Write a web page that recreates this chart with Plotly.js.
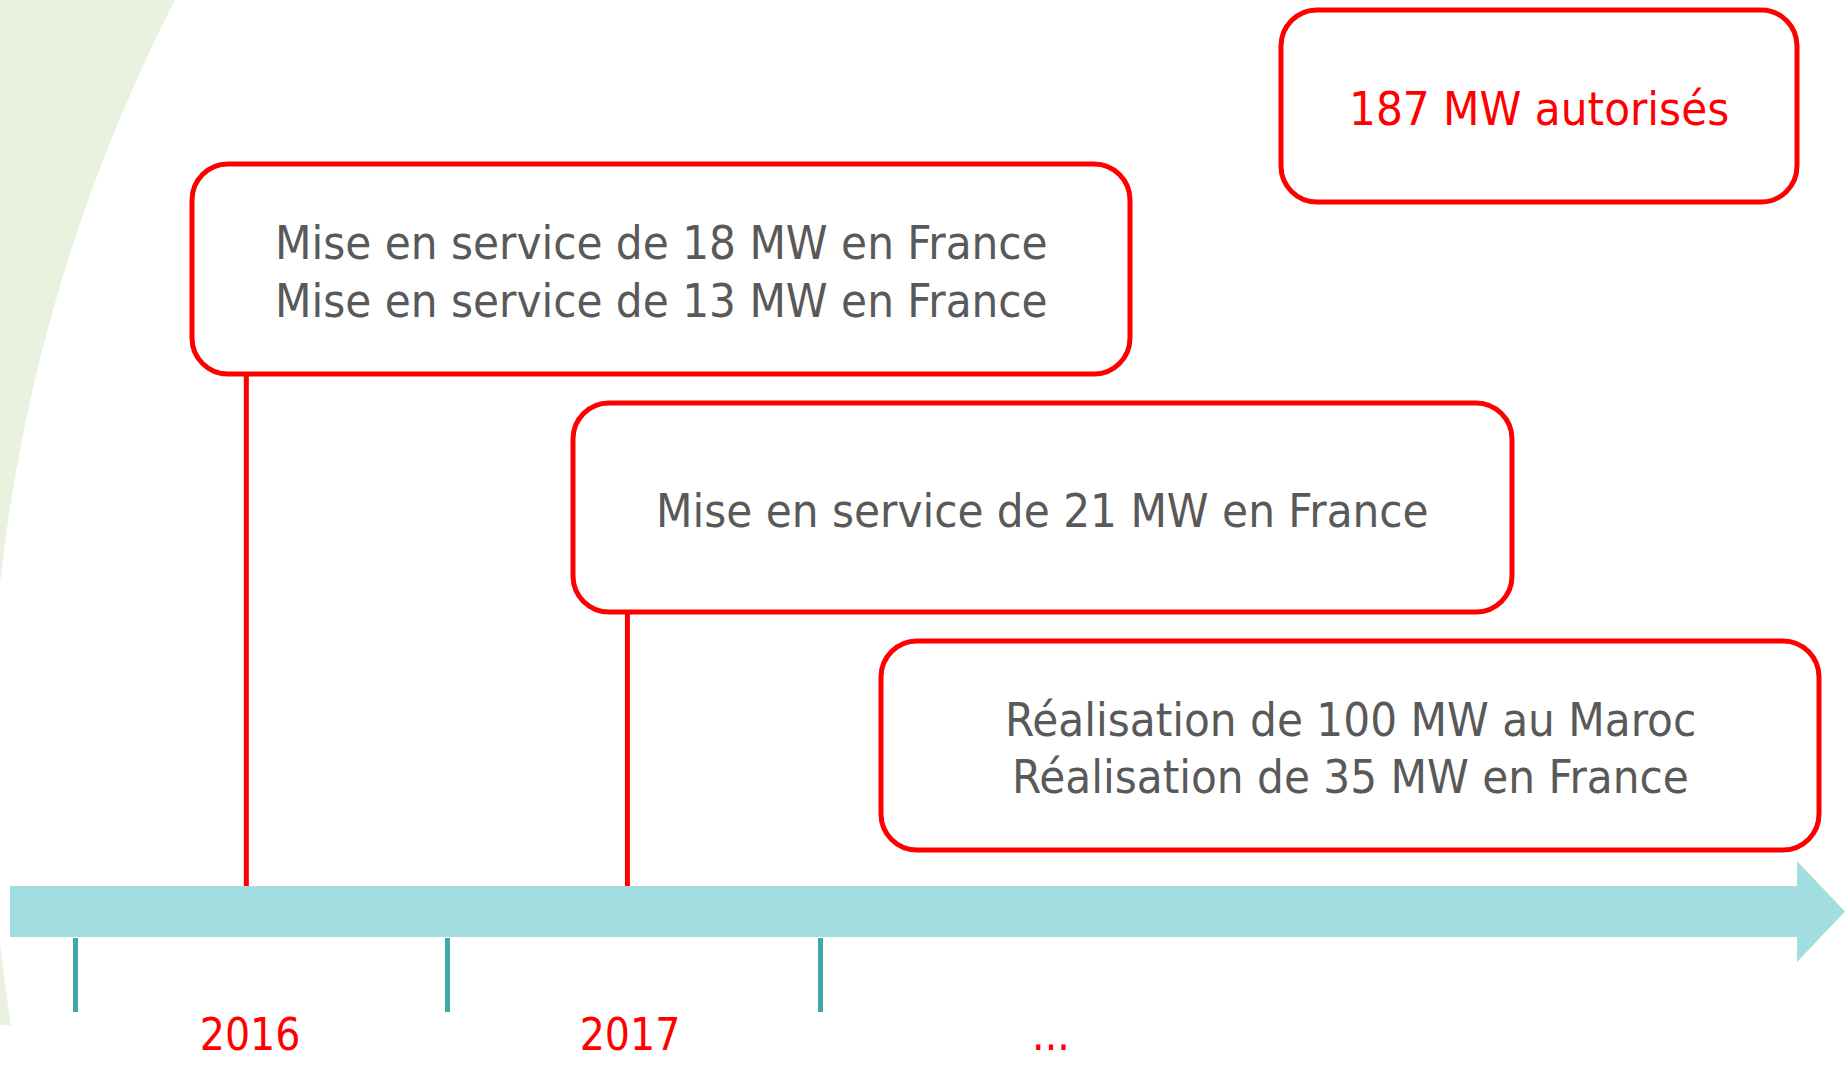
<!DOCTYPE html>
<html>
<head>
<meta charset="utf-8">
<script src="https://cdn.plot.ly/plotly-3.0.1.min.js"></script>
<style>
  html, body { margin: 0; padding: 0; background: #ffffff; }
  #chart { width: 1845px; height: 1066px; }
</style>
</head>
<body>
<div id="chart"></div>
<script>
// ---------------- DATA ----------------
const periodBounds = [0, 1, 2];                 // tick marks between periods on the timeline
const yearLabels   = ['2016', '2017', '...'];   // period labels
const yearPos      = [0.47, 1.49, 2.62];        // where each label sits on the timeline (periods)
const milestoneText = [
  'Mise en service de 18 MW en France<br>Mise en service de 13 MW en France',
  'Mise en service de 21 MW en France',
  'Réalisation de 100 MW au Maroc<br>Réalisation de 35 MW en France',
  '187 MW autorisés'
];
const milestoneTime = [0.46, 1.483, null, null];   // time on the timeline where a milestone is anchored

// ---------------- LAYOUT CONSTANTS ----------------
const W = 1845, H = 1066;
const T0 = 75, UNIT = 372.5;            // pixel column of timeline origin, pixels per period
const X = px => (px - T0) / UNIT;        // pixel column -> timeline units
const BAND = { x0: 10, y0: 886, y1: 937, headX: 1797, headTop: 861, headBot: 962, tip: 1845 };
const BOXES = [
  { x0: 192,  y0: 164, x1: 1130, y1: 374 },
  { x0: 573,  y0: 403, x1: 1512, y1: 612 },
  { x0: 881,  y0: 641, x1: 1819, y1: 850 },
  { x0: 1281, y0: 10,  x1: 1797, y1: 202 }
];
const TEXT_COLOR = ['#595959', '#595959', '#595959', '#ff0000'];
const RED = '#ff0000', TEAL = '#3fa8a8', BAND_COLOR = '#a2dedf', GREEN = '#e9f1df';
const FONT = '"DejaVu Sans Condensed", "DejaVu Sans", sans-serif';
const FS = 47, R = 36, LINE_H = 57.5, TEXT_DY = 2.5, YEAR_Y = 1039, YEAR_FS = 44;

function roundRect(b, r) {
  const k = 0.5523 * r;
  const p = [];
  p.push(`M ${X(b.x0 + r)},${b.y0}`);
  p.push(`L ${X(b.x1 - r)},${b.y0}`);
  p.push(`C ${X(b.x1 - r + k)},${b.y0} ${X(b.x1)},${b.y0 + r - k} ${X(b.x1)},${b.y0 + r}`);
  p.push(`L ${X(b.x1)},${b.y1 - r}`);
  p.push(`C ${X(b.x1)},${b.y1 - r + k} ${X(b.x1 - r + k)},${b.y1} ${X(b.x1 - r)},${b.y1}`);
  p.push(`L ${X(b.x0 + r)},${b.y1}`);
  p.push(`C ${X(b.x0 + r - k)},${b.y1} ${X(b.x0)},${b.y1 - r + k} ${X(b.x0)},${b.y1 - r}`);
  p.push(`L ${X(b.x0)},${b.y0 + r}`);
  p.push(`C ${X(b.x0)},${b.y0 + r - k} ${X(b.x0 + r - k)},${b.y0} ${X(b.x0 + r)},${b.y0}`);
  p.push('Z');
  return p.join(' ');
}

const shapes = [];
// decorative green background arc on the left
shapes.push({ type: 'rect', xref: 'x', yref: 'y', layer: 'below',
  x0: X(0), x1: X(320), y0: 0, y1: 1025, fillcolor: GREEN, line: { width: 0 } });
shapes.push({ type: 'circle', xref: 'x', yref: 'y', layer: 'below',
  x0: X(1660.6 - 1670.3), x1: X(1660.6 + 1670.3), y0: 763.4 - 1670.3, y1: 763.4 + 1670.3,
  fillcolor: '#ffffff', line: { width: 0 } });
// timeline arrow band
shapes.push({ type: 'path', xref: 'x', yref: 'y', layer: 'below',
  path: `M ${X(BAND.x0)},${BAND.y0} L ${X(BAND.headX)},${BAND.y0} L ${X(BAND.headX)},${BAND.headTop} ` +
        `L ${X(BAND.tip)},${(BAND.headTop + BAND.headBot) / 2} L ${X(BAND.headX)},${BAND.headBot} ` +
        `L ${X(BAND.headX)},${BAND.y1} L ${X(BAND.x0)},${BAND.y1} Z`,
  fillcolor: BAND_COLOR, line: { width: 0 } });
// connectors
milestoneTime.forEach((t, i) => {
  if (t === null) return;
  shapes.push({ type: 'line', xref: 'x', yref: 'y', layer: 'below',
    x0: t, x1: t, y0: BOXES[i].y1, y1: BAND.y0, line: { color: RED, width: 5 } });
});
// rounded boxes
BOXES.forEach(b => {
  shapes.push({ type: 'path', xref: 'x', yref: 'y', layer: 'below',
    path: roundRect(b, R), fillcolor: '#ffffff', line: { color: RED, width: 5 } });
});

// box texts, one annotation per line for exact line spacing
const annotations = [];
milestoneText.forEach((t, i) => {
  const b = BOXES[i];
  const lines = t.split('<br>');
  const cy = (b.y0 + b.y1) / 2 + TEXT_DY;
  lines.forEach((ln, j) => {
    annotations.push({ xref: 'x', yref: 'y', x: X((b.x0 + b.x1) / 2),
      y: cy + (j - (lines.length - 1) / 2) * LINE_H,
      xanchor: 'center', yanchor: 'middle', showarrow: false, align: 'center',
      text: ln, font: { family: FONT, size: FS, color: TEXT_COLOR[i] } });
  });
});

const traces = [{
  type: 'scatter', mode: 'text', x: yearPos, y: yearLabels.map(() => YEAR_Y),
  text: yearLabels, textposition: 'middle center',
  textfont: { family: FONT, size: YEAR_FS, color: RED },
  hoverinfo: 'skip', showlegend: false
}];

const layout = {
  width: W, height: H,
  margin: { l: 0, r: 0, t: 0, b: 0, pad: 0 },
  paper_bgcolor: '#ffffff', plot_bgcolor: 'rgba(0,0,0,0)',
  showlegend: false,
  xaxis: { range: [X(0), X(W)], anchor: 'free', position: (H - BAND.y1) / H,
    tickmode: 'array', tickvals: periodBounds, ticks: 'outside', ticklen: 74, tickwidth: 5,
    tickcolor: TEAL, showticklabels: false, showgrid: false, zeroline: false, showline: false,
    fixedrange: true },
  yaxis: { range: [H, 0], visible: false, showgrid: false, zeroline: false, fixedrange: true },
  shapes: shapes,
  annotations: annotations
};

Plotly.newPlot('chart', traces, layout, { staticPlot: true, displayModeBar: false });
</script>
</body>
</html>
